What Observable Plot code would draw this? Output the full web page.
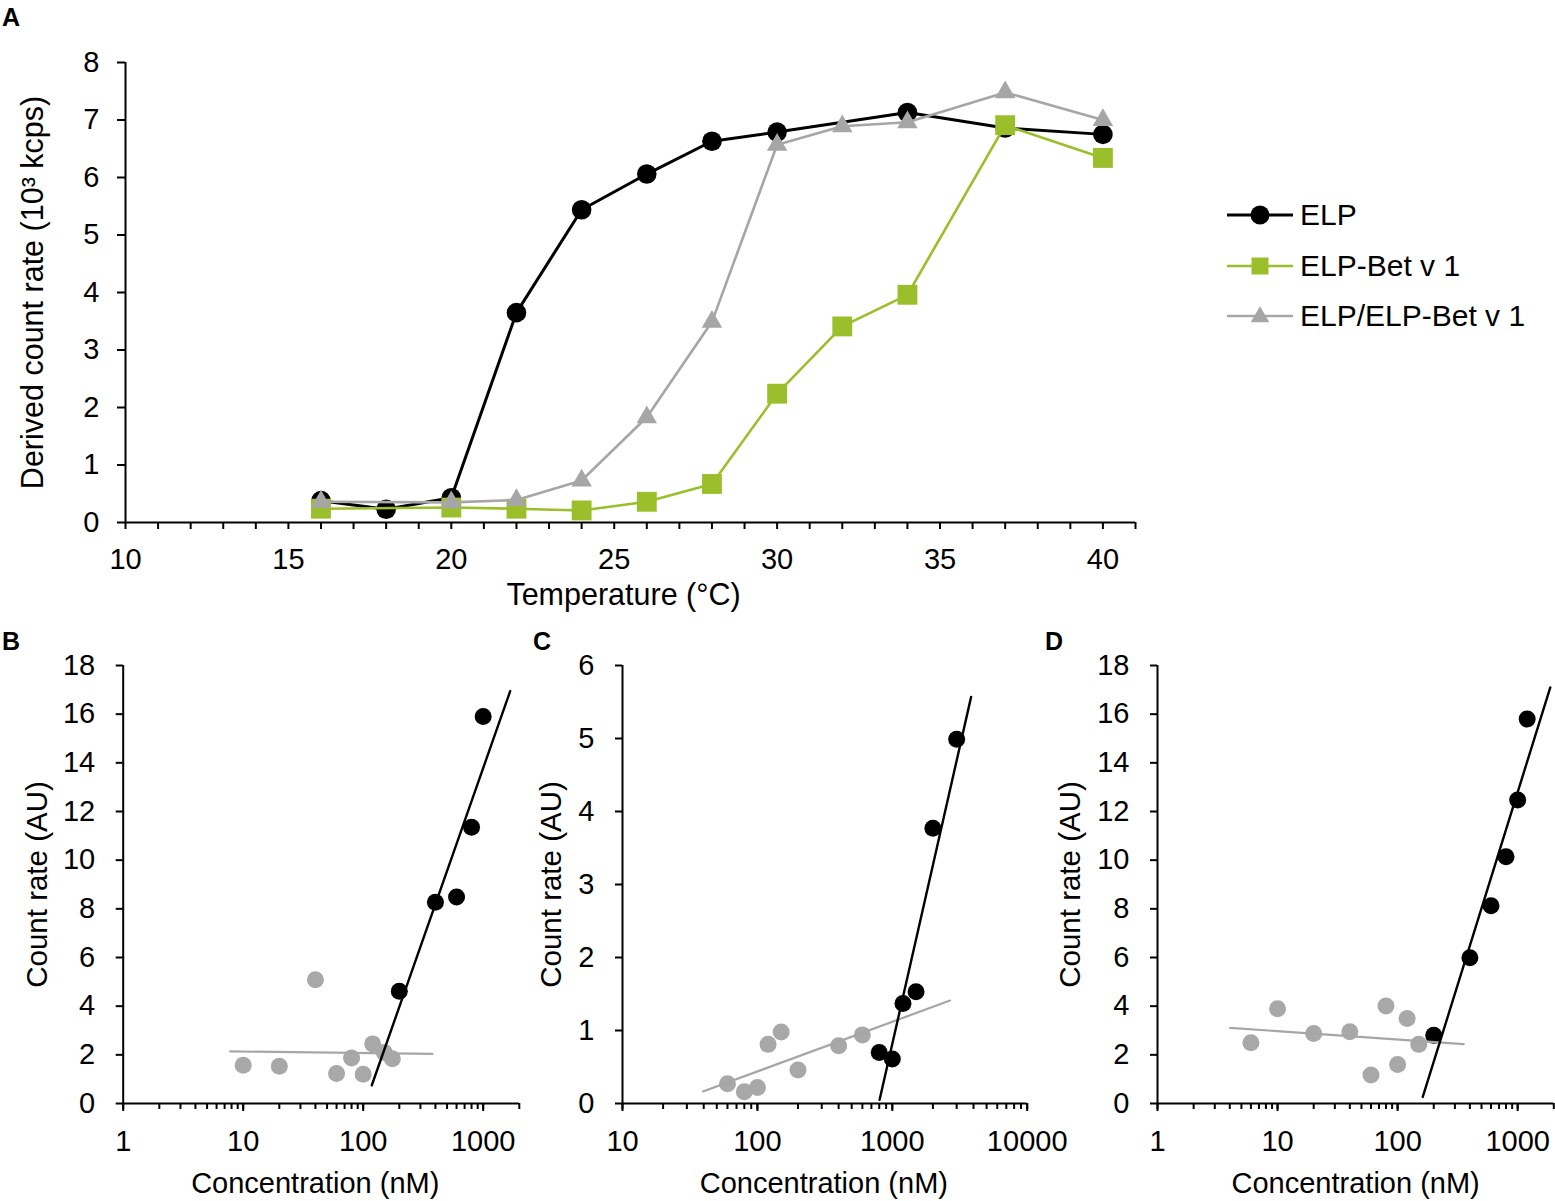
<!DOCTYPE html>
<html>
<head>
<meta charset="utf-8">
<script src="https://cdn.jsdelivr.net/npm/d3@7"></script>
<script src="https://cdn.jsdelivr.net/npm/@observablehq/plot@0.6"></script>
<style>
  body { margin: 0; background: #fff; font-family: "Liberation Sans", Arial, sans-serif; color: #000; }
  #root { position: relative; width: 1555px; height: 1201px; overflow: hidden; background: #fff; }
  .panel { position: absolute; }
  .panel svg { overflow: visible; max-width: none; background: transparent; }
  .letter { position: absolute; font-weight: bold; font-size: 25px; line-height: 25px; }
  .lrow { position: absolute; left: 1227px; height: 36px; display: flex; align-items: center; font-size: 30px; white-space: nowrap; }
  .lrow svg { margin-right: 7px; }
</style>
</head>
<body>
<div id="root"></div>
<script>
// ---------- Panel A data ----------
const temps   = [16, 18, 20, 22, 24, 26, 28, 30, 32, 34, 37, 40];
const elpA    = [0.38, 0.23, 0.43, 3.65, 5.44, 6.06, 6.63, 6.79, null, 7.13, 6.86, 6.75];
const betA    = [0.24, null, 0.26, 0.24, 0.21, 0.36, 0.67, 2.24, 3.41, 3.96, 6.91, 6.34];
const mixA    = [0.36, null, 0.35, 0.39, 0.73, 1.83, 3.49, 6.57, 6.89, 6.96, 7.48, 7.00];
const seriesNames = ["ELP", "ELP-Bet v 1", "ELP/ELP-Bet v 1"];
const seriesColors = ["#000000", "#9bbf2a", "#a6a6a6"];
const xTickLabelsA = [10, 15, 20, 25, 30, 35, 40];
const yTickLabelsA = [0, 1, 2, 3, 4, 5, 6, 7, 8];

// ---------- Panel B data ----------
const concB_gray = [10, 20, 40, 60, 80, 100, 120, 150, 175];
const valB_gray  = [1.57, 1.53, 5.09, 1.23, 1.87, 1.20, 2.45, 2.10, 1.84];
const concB_blk  = [200, 400, 600, 800, 1000];
const valB_blk   = [4.61, 8.27, 8.49, 11.35, 15.9];
const fitB_blk_x = [118, 1680];  const fitB_blk_y = [0.75, 16.95];
const fitB_gry_x = [7.8, 378];   const fitB_gry_y = [2.14, 2.04];

// ---------- Panel C data ----------
const concC_gray = [60, 80, 100, 120, 150, 200, 400, 600];
const valC_gray  = [0.27, 0.16, 0.22, 0.81, 0.98, 0.46, 0.79, 0.94];
const concC_blk  = [800, 1000, 1200, 1500, 2000, 3000];
const valC_blk   = [0.70, 0.61, 1.37, 1.53, 3.77, 4.99];
const fitC_blk_x = [805, 3840];  const fitC_blk_y = [0.05, 5.57];
const fitC_gry_x = [39.5, 2675]; const fitC_gry_y = [0.165, 1.41];

// ---------- Panel D data ----------
const concD_gray = [6, 10, 20, 40, 60, 80, 100, 120, 150];
const valD_gray  = [2.50, 3.89, 2.88, 2.95, 1.17, 4.01, 1.60, 3.49, 2.43];
const concD_blk  = [200, 400, 600, 800, 1000, 1200];
const valD_blk   = [2.80, 5.99, 8.13, 10.14, 12.47, 15.8];
const fitD_blk_x = [162, 1870];  const fitD_blk_y = [0.27, 17.1];
const fitD_gry_x = [4.03, 355];  const fitD_gry_y = [3.11, 2.44];

// tick labels for B-D
const yTicksBD = [0, 2, 4, 6, 8, 10, 12, 14, 16, 18];
const yTicksC  = [0, 1, 2, 3, 4, 5, 6];
const decadesBD = [1, 10, 100, 1000];
const decadesC  = [10, 100, 1000, 10000];
const xLabelConc = "Concentration (nM)";
const yLabelCount = "Count rate (AU)";

const FONT = "'Liberation Sans', Arial, sans-serif";
const root = document.getElementById("root");

function place(el, left, top) {
  const d = document.createElement("div");
  d.className = "panel";
  d.style.left = left + "px";
  d.style.top = top + "px";
  d.appendChild(el);
  root.appendChild(d);
}
function letter(t, left, top) {
  const d = document.createElement("div");
  d.className = "letter";
  d.textContent = t;
  d.style.left = left + "px";
  d.style.top = top + "px";
  root.appendChild(d);
}
const zip = (xs, ys) => xs.map((x, i) => ({x, y: ys[i]}));

// ---------- Panel A ----------
const rowsA = [elpA, betA, mixA].map(vals =>
  temps.map((t, i) => ({t, v: vals[i]})).filter(d => d.v != null));
const symbols = ["circle", "square", "triangle"];
const radii = [9.8, 11.2, 7.6];
const widths = [3, 2.6, 2.6];

const marksA = [
  Plot.axisX({ticks: d3.range(10, 42), tickSize: 7, tickPadding: 19, strokeWidth: 2,
    tickFormat: d => xTickLabelsA.includes(d) ? String(d) : "", label: null, fontSize: 29}),
  Plot.axisY({ticks: yTickLabelsA, tickSize: 8, tickPadding: 18, strokeWidth: 2, label: null, fontSize: 29,
    tickFormat: d => String(d)}),
  Plot.ruleY([0], {strokeWidth: 2}),
  Plot.ruleX([10], {strokeWidth: 2}),
];
rowsA.forEach((rows, k) => {
  marksA.push(Plot.line(rows, {x: "t", y: "v", stroke: seriesColors[k], strokeWidth: widths[k]}));
  marksA.push(Plot.dot(rows, {x: "t", y: "v", fill: seriesColors[k], stroke: "none", symbol: symbols[k], r: radii[k]}));
});
marksA.push(Plot.text(["Derived count rate (10³ kcps)"], {text: d => d, frameAnchor: "left", dx: -92, rotate: -90,
  textAnchor: "middle", lineAnchor: "middle", fontSize: 30.5}));
marksA.push(Plot.text(["Temperature (°C)"], {text: d => d, frameAnchor: "bottom", dx: -7, dy: 73,
  textAnchor: "middle", lineAnchor: "middle", fontSize: 30.5}));

const plotA = Plot.plot({
  width: 1150, height: 620,
  marginLeft: 125, marginRight: 15, marginTop: 62, marginBottom: 98,
  x: {type: "linear", domain: [10, 41], label: null},
  y: {domain: [0, 8], label: null},
  style: {fontFamily: FONT, fontSize: "29px", color: "#000", background: "transparent", overflow: "visible"},
  marks: marksA
});
place(plotA, 0, 0);

// ---------- Log panels ----------
function minorTicks(lo, hi) {
  const out = [];
  for (let dec = lo; dec <= hi; dec *= 10)
    for (let m = 1; m <= 9; m++) { const v = m * dec; if (v <= hi) out.push(v); }
  return out;
}
function logPanel({width, marginLeft, marginRight, xDomain, decades, yDomain, yTicks,
                   grayX, grayY, blkX, blkY, fbx, fby, fgx, fgy, yLabelDx, xLabelDx}) {
  return Plot.plot({
    width, height: 561,
    marginLeft, marginRight, marginTop: 25, marginBottom: 98,
    x: {type: "log", domain: xDomain, label: null},
    y: {domain: yDomain, label: null},
    style: {fontFamily: FONT, fontSize: "29px", color: "#000", background: "transparent", overflow: "visible"},
    marks: [
      Plot.axisX({ticks: minorTicks(xDomain[0], xDomain[1]), tickSize: 6, tickFormat: () => "", strokeWidth: 2, label: null}),
      Plot.axisX({ticks: decades, tickSize: 8, tickPadding: 19, tickFormat: d => String(d), strokeWidth: 2, label: null, fontSize: 29}),
      Plot.axisY({ticks: yTicks, tickSize: 7, tickPadding: 21, strokeWidth: 2, label: null, fontSize: 29,
        tickFormat: d => String(d)}),
      Plot.ruleY([yDomain[0]], {strokeWidth: 2}),
      Plot.ruleX([xDomain[0]], {strokeWidth: 2}),
      Plot.dot(zip(grayX, grayY), {x: "x", y: "y", r: 8.5, fill: "#a8a8a8", stroke: "none"}),
      Plot.dot(zip(blkX, blkY), {x: "x", y: "y", r: 8.5, fill: "#000", stroke: "none"}),
      Plot.line(zip(fgx, fgy), {x: "x", y: "y", stroke: "#a6a6a6", strokeWidth: 2.2}),
      Plot.line(zip(fbx, fby), {x: "x", y: "y", stroke: "#000", strokeWidth: 2.4}),
      Plot.text([yLabelCount], {text: d => d, frameAnchor: "left", dx: yLabelDx, rotate: -90,
        textAnchor: "middle", lineAnchor: "middle", fontSize: 29.5}),
      Plot.text([xLabelConc], {text: d => d, frameAnchor: "bottom", dx: xLabelDx, dy: 80,
        textAnchor: "middle", lineAnchor: "middle", fontSize: 29})
    ]
  });
}

place(logPanel({width: 530, marginLeft: 122.7, marginRight: 11.2, xDomain: [1, 2000], decades: decadesBD,
  yDomain: [0, 18], yTicks: yTicksBD, grayX: concB_gray, grayY: valB_gray, blkX: concB_blk, blkY: valB_blk,
  fbx: fitB_blk_x, fby: fitB_blk_y, fgx: fitB_gry_x, fgy: fitB_gry_y, yLabelDx: -86, xLabelDx: -6}), 0, 640);

place(logPanel({width: 520, marginLeft: 92, marginRight: 23.3, xDomain: [10, 10000], decades: decadesC,
  yDomain: [0, 6], yTicks: yTicksC, grayX: concC_gray, grayY: valC_gray, blkX: concC_blk, blkY: valC_blk,
  fbx: fitC_blk_x, fby: fitC_blk_y, fgx: fitC_gry_x, fgy: fitC_gry_y, yLabelDx: -71, xLabelDx: -1}), 530, 640);

place(logPanel({width: 515, marginLeft: 117, marginRight: 1.7, xDomain: [1, 2000], decades: decadesBD,
  yDomain: [0, 18], yTicks: yTicksBD, grayX: concD_gray, grayY: valD_gray, blkX: concD_blk, blkY: valD_blk,
  fbx: fitD_blk_x, fby: fitD_blk_y, fgx: fitD_gry_x, fgy: fitD_gry_y, yLabelDx: -87, xLabelDx: 0}), 1040, 640);

// ---------- Letters ----------
letter("A", 2, 5);
letter("B", 2, 629);
letter("C", 533, 629);
letter("D", 1045, 629);

// ---------- Legend for panel A ----------
const legendY = [215, 266, 316];
seriesNames.forEach((name, k) => {
  const row = document.createElement("div");
  row.className = "lrow";
  row.style.top = (legendY[k] - 18) + "px";
  const ns = "http://www.w3.org/2000/svg";
  const s = document.createElementNS(ns, "svg");
  s.setAttribute("width", 66); s.setAttribute("height", 24);
  const ln = document.createElementNS(ns, "line");
  ln.setAttribute("x1", 0); ln.setAttribute("x2", 66); ln.setAttribute("y1", 12); ln.setAttribute("y2", 12);
  ln.setAttribute("stroke", seriesColors[k]); ln.setAttribute("stroke-width", widths[k]);
  s.appendChild(ln);
  const p = document.createElementNS(ns, "path");
  const sym = [d3.symbolCircle, d3.symbolSquare, d3.symbolTriangle][k];
  const size = [Math.PI * 9.5 * 9.5, 17 * 17, 150][k];
  p.setAttribute("d", d3.symbol(sym, size)());
  p.setAttribute("transform", "translate(33," + (k === 2 ? 13 : 12) + ")");
  p.setAttribute("fill", seriesColors[k]);
  s.appendChild(p);
  row.appendChild(s);
  const t = document.createElement("span");
  t.textContent = name;
  row.appendChild(t);
  root.appendChild(row);
});
</script>
</body>
</html>
